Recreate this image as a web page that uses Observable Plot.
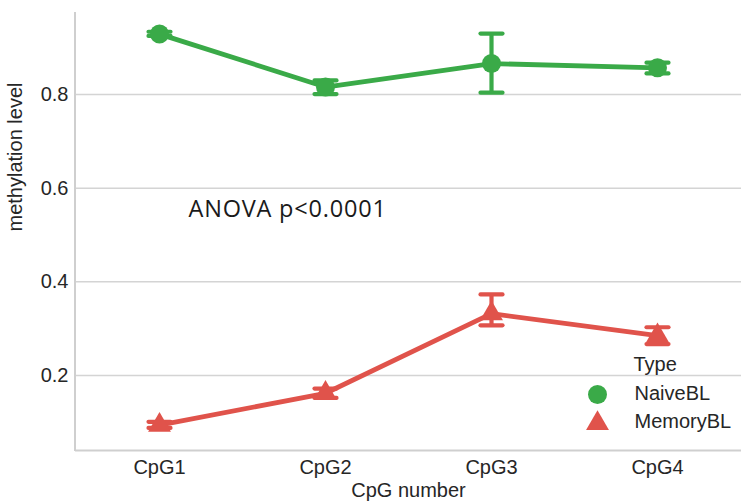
<!DOCTYPE html>
<html>
<head>
<meta charset="utf-8">
<script src="https://cdn.jsdelivr.net/npm/d3@7"></script>
<script src="https://cdn.jsdelivr.net/npm/@observablehq/plot@0.6"></script>
<style>
  html, body { margin: 0; padding: 0; background: #ffffff; }
  #chart { width: 741px; height: 502px; overflow: hidden; }
</style>
</head>
<body>
<div id="chart"></div>
<script>
// CpG sites along the x axis
const cpgSites = ["CpG1", "CpG2", "CpG3", "CpG4"];

// Cell types and their colours / marker shapes
const cellTypes = ["NaiveBL", "MemoryBL"];
const typeColors = ["#3aaa48", "#e0534b"];
const typeSymbols = ["circle", "triangle"];
const typeRadius = [9.5, 8.5];

// Mean methylation level and confidence interval per site
const naiveMean = [0.929, 0.816, 0.866, 0.857];
const naiveLow  = [0.925, 0.801, 0.804, 0.845];
const naiveHigh = [0.934, 0.830, 0.930, 0.868];

const memoryMean = [0.094, 0.162, 0.332, 0.285];
const memoryLow  = [0.088, 0.152, 0.307, 0.267];
const memoryHigh = [0.101, 0.172, 0.373, 0.303];

// Axis ticks and text
const yTicks = [0.2, 0.4, 0.6, 0.8];
const yDomain = [0.0398, 0.9751];
const xLabel = "CpG number";
const yLabel = "methylation level";
const legendTitle = "Type";
const statsNote = "ANOVA p<0.0001";

// Long-form rows built from the arrays above
const series = [
  {type: cellTypes[0], mean: naiveMean, low: naiveLow, high: naiveHigh},
  {type: cellTypes[1], mean: memoryMean, low: memoryLow, high: memoryHigh}
];
const rows = series.flatMap(s => cpgSites.map((cpg, i) => ({
  type: s.type, cpg, mean: s.mean[i], low: s.low[i], high: s.high[i]
})));

// Horizontal cap drawn at both ends of every error bar
const capSymbol = {
  draw(context, size) {
    const w = Math.sqrt(size / Math.PI);
    context.moveTo(-w, 0);
    context.lineTo(w, 0);
  }
};

const spineColor = "#cfcfcf";
const textColor = "#262626";
const labelSize = 20;

// Left spine, drawn along the frame's left edge
function leftSpine(index, scales, values, dimensions) {
  const {marginLeft, marginTop, height, marginBottom} = dimensions;
  const g = d3.create("svg:g");
  g.append("line")
    .attr("x1", marginLeft).attr("x2", marginLeft)
    .attr("y1", marginTop).attr("y2", height - marginBottom + 1)
    .attr("stroke", spineColor).attr("stroke-width", 2);
  return g.node();
}

const perType = cellTypes.map(t => rows.filter(r => r.type === t));

const chart = Plot.plot({
  width: 741,
  height: 502,
  marginLeft: 75,
  marginRight: 0,
  marginTop: 12,
  marginBottom: 52,
  style: {
    fontFamily: "'Liberation Sans', Arial, sans-serif",
    fontSize: labelSize + "px",
    color: textColor,
    background: "#ffffff",
    overflow: "visible"
  },
  x: {
    type: "point",
    domain: cpgSites,
    padding: 0.5,
    tickSize: 0,
    tickPadding: 9,
    label: null
  },
  y: {
    domain: yDomain,
    ticks: yTicks,
    tickFormat: d3.format(".1f"),
    tickSize: 0,
    tickPadding: 7,
    label: null
  },
  color: {domain: cellTypes, range: typeColors},
  marks: [
    // grid
    Plot.ruleY(yTicks, {stroke: "#d4d4d4", strokeWidth: 1.5}),
    // spines
    Plot.ruleY([yDomain[0]], {stroke: spineColor, strokeWidth: 2}),
    leftSpine,
    // connecting lines
    Plot.line(rows, {x: "cpg", y: "mean", z: "type", stroke: "type", strokeWidth: 4.8}),
    // error bars
    Plot.ruleX(rows, {x: "cpg", y1: "low", y2: "high", stroke: "type", strokeWidth: 4.2}),
    Plot.dot(rows, {x: "cpg", y: "low", symbol: capSymbol, r: 11, stroke: "type", strokeWidth: 4.2, fill: "none", strokeLinecap: "round"}),
    Plot.dot(rows, {x: "cpg", y: "high", symbol: capSymbol, r: 11, stroke: "type", strokeWidth: 4.2, fill: "none", strokeLinecap: "round"}),
    // point markers
    ...perType.map((data, i) => Plot.dot(data, {
      x: "cpg", y: "mean", fill: "type", symbol: typeSymbols[i], r: typeRadius[i], stroke: null
    })),
    // statistics note
    Plot.text([statsNote], {
      frameAnchor: "top-left", dx: 113, dy: 197, textAnchor: "start", lineAnchor: "middle",
      fontFamily: "'Open Sans', 'Noto Sans', sans-serif", fontSize: 23.5, fill: "#1a1a1a"
    }),
    // axis titles
    Plot.text([yLabel], {
      frameAnchor: "left", dx: -60, rotate: -90, fontSize: labelSize, fill: textColor
    }),
    Plot.text([xLabel], {
      frameAnchor: "bottom", dy: 46, fontSize: labelSize, fill: textColor
    }),
    // legend
    Plot.text([legendTitle], {
      frameAnchor: "bottom-right", dx: -108, dy: -80, textAnchor: "start", fontSize: labelSize, fill: textColor
    }),
    ...cellTypes.map((t, i) => Plot.dot([t], {
      frameAnchor: "bottom-right", dx: -144, dy: -56 + 29 * i,
      fill: d => d, symbol: typeSymbols[i], r: typeRadius[i]
    })),
    ...cellTypes.map((t, i) => Plot.text([t], {
      frameAnchor: "bottom-right", dx: -107, dy: -51 + 28.5 * i,
      textAnchor: "start", fontSize: labelSize, fill: textColor
    }))
  ]
});

// The note is set a little wider than the default tracking
d3.select(chart).selectAll("text")
  .filter(function () { return this.textContent === statsNote; })
  .attr("letter-spacing", "0.8px");

document.getElementById("chart").appendChild(chart);
</script>
</body>
</html>
